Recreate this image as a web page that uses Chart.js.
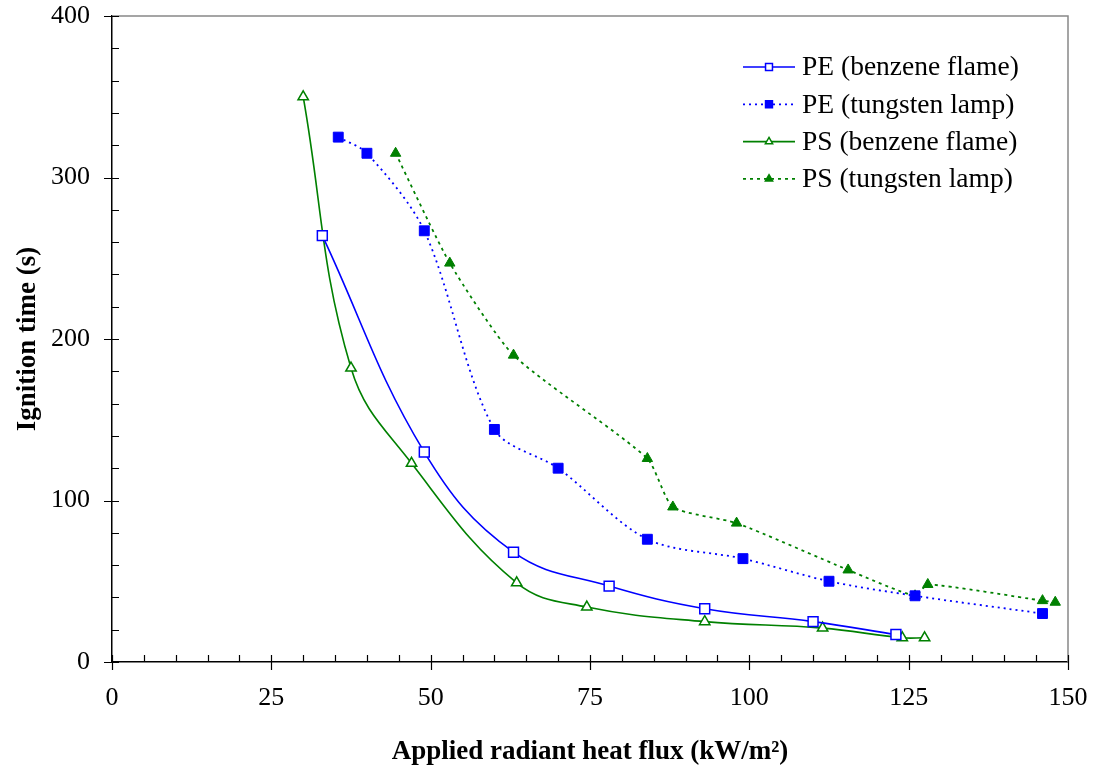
<!DOCTYPE html>
<html>
<head>
<meta charset="utf-8">
<script src="https://cdn.jsdelivr.net/npm/chart.js@4.4.0/dist/chart.umd.min.js"></script>
<style>
html, body { margin: 0; padding: 0; background: #fff; }
#wrap { width: 1096px; height: 769px; }
</style>
</head>
<body>
<div id="wrap"><canvas id="fluxChart" width="1096" height="769"></canvas></div>
<script>
// values
const peBenzeneX = [33, 49, 63, 78, 93, 110, 123];
const peBenzeneY = [264, 130, 68, 47, 33, 25, 17];
const peLampX = [35.5, 40, 49, 60, 70, 84, 99, 112.5, 126, 146];
const peLampY = [325, 315, 267, 144, 120, 76, 64, 50, 41, 30];
const psBenzeneX = [30, 37.5, 47, 63.5, 74.5, 93, 111.5, 124, 127.5];
const psBenzeneY = [350, 182, 123, 49, 34, 25, 21, 15, 15];
const psLampX = [44.5, 53, 63, 84, 88, 98, 115.5, 126, 128, 146, 148];
const psLampY = [315, 247, 190, 126, 96, 86, 57, 41, 48, 38, 37];

const xTickValues = [0, 25, 50, 75, 100, 125, 150];
const yTickValues = [0, 100, 200, 300, 400];
const xMinorStep = 5;
const yMinorStep = 20;

const serif = "'Liberation Serif', 'Times New Roman', serif";

function pts(xs, ys) {
    return xs.map((x, i) => ({ x: x, y: ys[i] }));
}

// tick marks + grey top/right frame
const frameTicks = {
    id: 'frameTicks',
    afterDraw(chart) {
        const ctx = chart.ctx;
        const a = chart.chartArea;
        const xs = chart.scales.x, ys = chart.scales.y;
        ctx.save();
        ctx.strokeStyle = '#888';
        ctx.lineWidth = 1.5;
        ctx.beginPath();
        ctx.moveTo(a.left, a.top);
        ctx.lineTo(a.right, a.top);
        ctx.lineTo(a.right, a.bottom);
        ctx.stroke();

        ctx.strokeStyle = '#000';
        ctx.lineWidth = 1.2;
        ctx.beginPath();
        for (let v = xs.min; v <= xs.max; v += xMinorStep) {
            const px = Math.round(xs.getPixelForValue(v)) + 0.5;
            const major = xTickValues.includes(v);
            ctx.moveTo(px, a.bottom - 7);
            ctx.lineTo(px, major ? a.bottom + 8 : a.bottom);
        }
        for (let v = ys.min; v <= ys.max; v += yMinorStep) {
            const py = Math.round(ys.getPixelForValue(v)) + 0.5;
            const major = yTickValues.includes(v);
            ctx.moveTo(major ? a.left - 8 : a.left, py);
            ctx.lineTo(a.left + 7, py);
        }
        ctx.stroke();
        ctx.restore();
    }
};

// legend drawn inside the plot, line + marker like the original
const insideLegend = {
    id: 'insideLegend',
    afterDatasetsDraw(chart) {
        const ctx = chart.ctx;
        const a = chart.chartArea;
        const x0 = a.right - 325;
        ctx.save();
        chart.data.datasets.forEach((ds, i) => {
            const y = a.top + 51 + i * 37.3;
            ctx.strokeStyle = ds.borderColor;
            ctx.lineWidth = ds.borderWidth;
            ctx.setLineDash(ds.borderDash || []);
            ctx.beginPath();
            ctx.moveTo(x0, y);
            ctx.lineTo(x0 + 52, y);
            ctx.stroke();
            ctx.setLineDash([]);
            ctx.fillStyle = ds.pointBackgroundColor;
            ctx.strokeStyle = ds.pointBorderColor;
            ctx.lineWidth = 1.5;
            Chart.helpers.drawPoint(ctx, {
                pointStyle: ds.pointStyle,
                radius: ds.pointRadius * 0.7,
                rotation: 0,
                borderWidth: 1.5
            }, x0 + 26, y);
            ctx.fillStyle = '#000';
            ctx.font = '27.5px ' + serif;
            ctx.textAlign = 'left';
            ctx.textBaseline = 'middle';
            ctx.fillText(ds.label, x0 + 59, y + 1);
        });
        ctx.restore();
    }
};

const ctx = document.getElementById('fluxChart').getContext('2d');
new Chart(ctx, {
    type: 'scatter',
    data: {
        datasets: [{
            label: 'PE (benzene flame)',
            data: pts(peBenzeneX, peBenzeneY),
            showLine: true,
            tension: 0.4,
            borderColor: '#0000FF',
            borderWidth: 1.6,
            pointStyle: 'rect',
            pointRadius: 7,
            pointBackgroundColor: '#fff',
            pointBorderColor: '#0000FF',
            pointBorderWidth: 1.5
        }, {
            label: 'PE (tungsten lamp)',
            data: pts(peLampX, peLampY),
            showLine: true,
            tension: 0.3,
            borderColor: '#0000FF',
            borderWidth: 1.8,
            borderDash: [2, 4],
            pointStyle: 'rect',
            pointRadius: 7,
            pointBackgroundColor: '#0000FF',
            pointBorderColor: '#0000FF',
            pointBorderWidth: 1
        }, {
            label: 'PS (benzene flame)',
            data: pts(psBenzeneX, psBenzeneY),
            showLine: true,
            tension: 0.4,
            borderColor: '#008000',
            borderWidth: 1.6,
            pointStyle: 'triangle',
            pointRadius: 6,
            pointBackgroundColor: '#fff',
            pointBorderColor: '#008000',
            pointBorderWidth: 1.5
        }, {
            label: 'PS (tungsten lamp)',
            data: pts(psLampX, psLampY),
            showLine: true,
            tension: 0.2,
            borderColor: '#008000',
            borderWidth: 1.8,
            borderDash: [3, 4],
            pointStyle: 'triangle',
            pointRadius: 6,
            pointBackgroundColor: '#008000',
            pointBorderColor: '#008000',
            pointBorderWidth: 1
        }]
    },
    options: {
        responsive: false,
        animation: false,
        layout: {
            padding: { top: 16, right: 28, left: 0, bottom: 0 }
        },
        plugins: {
            legend: { display: false },
            tooltip: { enabled: false }
        },
        scales: {
            x: {
                type: 'linear',
                min: 0,
                max: 150,
                afterBuildTicks: s => { s.ticks = xTickValues.map(v => ({ value: v })); },
                afterFit: s => {
                    s.height = 107;
                    s.paddingLeft = 0;
                    s.paddingRight = 0;
                },
                grid: { drawOnChartArea: false, drawTicks: false },
                border: { color: '#000', width: 1.5 },
                ticks: {
                    color: '#000',
                    padding: 21,
                    maxRotation: 0,
                    font: { family: serif, size: 26 }
                },
                title: {
                    display: true,
                    text: 'Applied radiant heat flux (kW/m²)',
                    color: '#000',
                    padding: { top: 0, bottom: 1 },
                    font: { family: serif, size: 27, weight: 'bold' }
                }
            },
            y: {
                type: 'linear',
                min: 0,
                max: 400,
                afterBuildTicks: s => { s.ticks = yTickValues.map(v => ({ value: v })); },
                afterFit: s => {
                    s.width = 112;
                    s.paddingTop = 0;
                    s.paddingBottom = 0;
                },
                grid: { drawOnChartArea: false, drawTicks: false },
                border: { color: '#000', width: 1.5 },
                ticks: {
                    color: '#000',
                    padding: 22,
                    font: { family: serif, size: 26 }
                },
                title: {
                    display: true,
                    text: 'Ignition time (s)',
                    color: '#000',
                    padding: { top: 12, bottom: 0 },
                    font: { family: serif, size: 27, weight: 'bold' }
                }
            }
        }
    },
    plugins: [frameTicks, insideLegend]
});
</script>
</body>
</html>
